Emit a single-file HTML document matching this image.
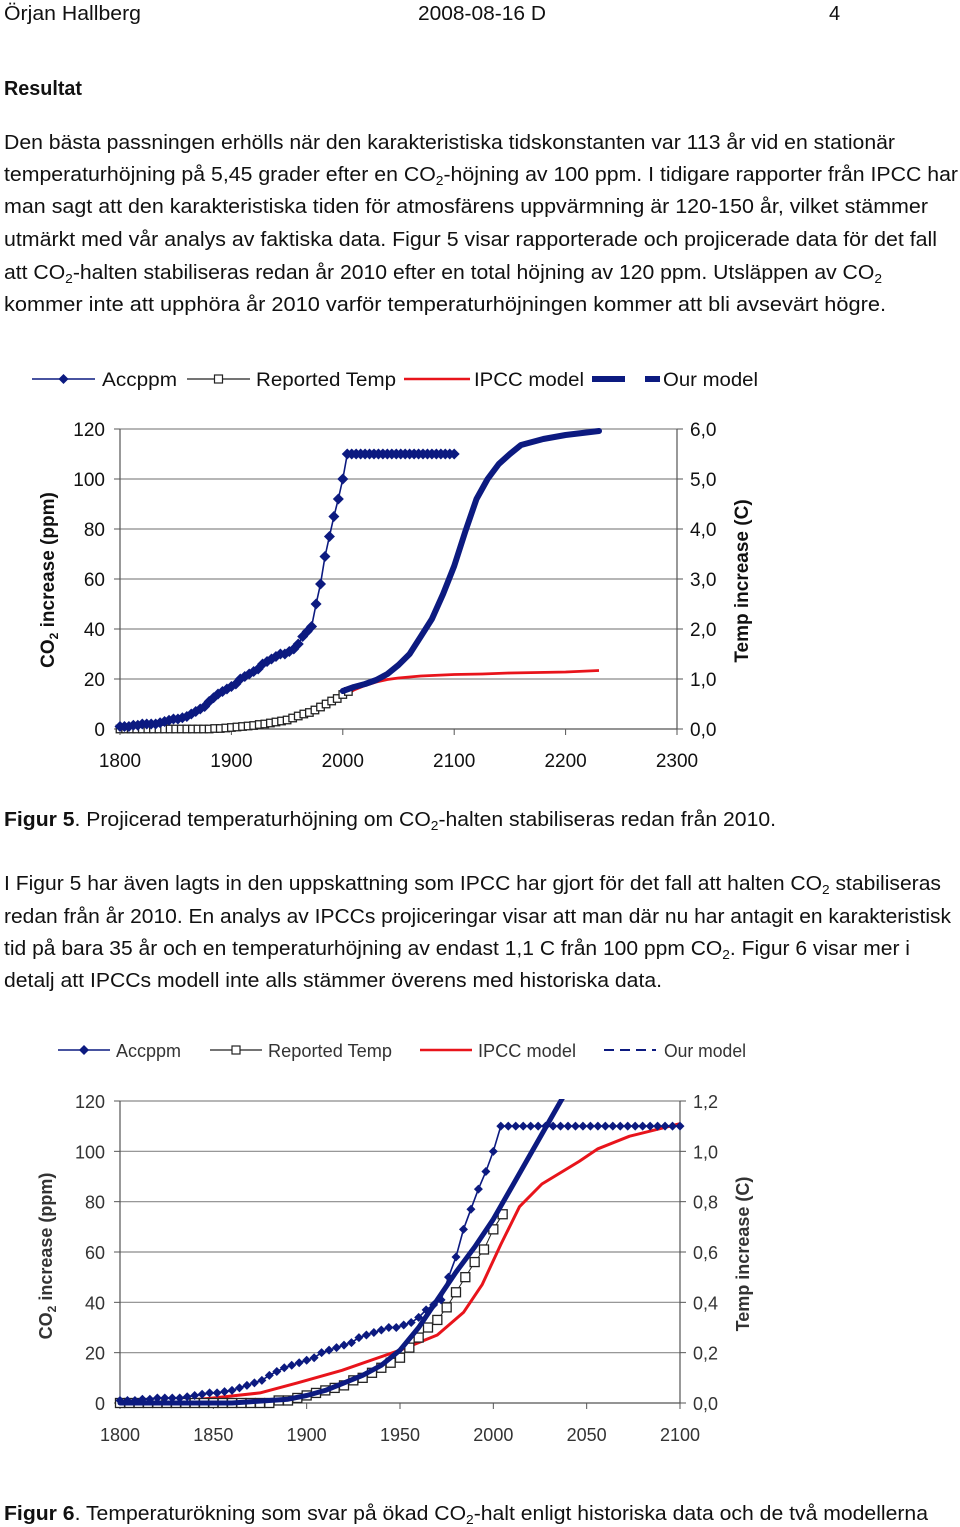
<!DOCTYPE html>
<html><head><meta charset="utf-8">
<style>
html,body{margin:0;padding:0;background:#fff;}
svg{display:block;font-family:"Liberation Sans",Arial,sans-serif;}
.b{font-size:20px;fill:#111;}
.t1{font-size:19px;fill:#111;}
.t2{font-size:18px;fill:#333;}
</style></head>
<body>
<svg id="page" width="960" height="1527" viewBox="0 0 960 1527" xmlns="http://www.w3.org/2000/svg">
<g>
<text class="b" x="4" y="20" textLength="137" lengthAdjust="spacingAndGlyphs">Örjan Hallberg</text>
<text class="b" x="418" y="20" textLength="128" lengthAdjust="spacingAndGlyphs">2008-08-16 D</text>
<text class="b" x="829" y="20">4</text>
</g>
<text class="b" x="4" y="95" font-weight="bold" textLength="78" lengthAdjust="spacingAndGlyphs">Resultat</text>
<g>
<text class="b" x="4" y="149" textLength="891" lengthAdjust="spacingAndGlyphs">Den bästa passningen erhölls när den karakteristiska tidskonstanten var 113 år vid en stationär</text>
<text class="b" x="4" y="181" textLength="954" lengthAdjust="spacingAndGlyphs">temperaturhöjning på 5,45 grader efter en CO<tspan font-size="13" dy="4">2</tspan><tspan dy="-4">-höjning av 100 ppm. I tidigare rapporter från IPCC har</tspan></text>
<text class="b" x="4" y="213" textLength="924" lengthAdjust="spacingAndGlyphs">man sagt att den karakteristiska tiden för atmosfärens uppvärmning är 120-150 år, vilket stämmer</text>
<text class="b" x="4" y="246" textLength="933" lengthAdjust="spacingAndGlyphs">utmärkt med vår analys av faktiska data. Figur 5 visar rapporterade och projicerade data för det fall</text>
<text class="b" x="4" y="279" textLength="878" lengthAdjust="spacingAndGlyphs">att CO<tspan font-size="13" dy="4">2</tspan><tspan dy="-4">-halten stabiliseras redan år 2010 efter en total höjning av 120 ppm. Utsläppen av CO</tspan><tspan font-size="13" dy="4">2</tspan></text>
<text class="b" x="4" y="311" textLength="882" lengthAdjust="spacingAndGlyphs">kommer inte att upphöra år 2010 varför temperaturhöjningen kommer att bli avsevärt högre.</text>
</g>

<g id="chart1"></g>

<text class="b" x="4" y="826" textLength="772" lengthAdjust="spacingAndGlyphs"><tspan font-weight="bold">Figur 5</tspan>. Projicerad temperaturhöjning om CO<tspan font-size="13" dy="4">2</tspan><tspan dy="-4">-halten stabiliseras redan från 2010.</tspan></text>
<g>
<text class="b" x="4" y="890" textLength="937" lengthAdjust="spacingAndGlyphs">I Figur 5 har även lagts in den uppskattning som IPCC har gjort för det fall att halten CO<tspan font-size="13" dy="4">2</tspan><tspan dy="-4"> stabiliseras</tspan></text>
<text class="b" x="4" y="923" textLength="947" lengthAdjust="spacingAndGlyphs">redan från år 2010. En analys av IPCCs projiceringar visar att man där nu har antagit en karakteristisk</text>
<text class="b" x="4" y="955" textLength="906" lengthAdjust="spacingAndGlyphs">tid på bara 35 år och en temperaturhöjning av endast 1,1 C från 100 ppm CO<tspan font-size="13" dy="4">2</tspan><tspan dy="-4">. Figur 6 visar mer i</tspan></text>
<text class="b" x="4" y="987" textLength="658" lengthAdjust="spacingAndGlyphs">detalj att IPCCs modell inte alls stämmer överens med historiska data.</text>
</g>

<g id="chart2"></g>

<text class="b" x="4" y="1520" textLength="924" lengthAdjust="spacingAndGlyphs"><tspan font-weight="bold">Figur 6</tspan>. Temperaturökning som svar på ökad CO<tspan font-size="13" dy="4">2</tspan><tspan dy="-4">-halt enligt historiska data och de två modellerna</tspan></text>
</svg>

<script>
// ===== shared data =====
const accYears = [1800,1804,1808,1812,1816,1820,1824,1828,1832,1836,1840,1844,1848,1852,1856,1860,1864,1868,1872,1876,1880,1884,1888,1892,1896,1900,1904,1908,1912,1916,1920,1924,1928,1932,1936,1940,1944,1948,1952,1956,1960,1964,1968,1972,1976,1980,1984,1988,1992,1996,2000,2004,2008,2012,2016,2020,2024,2028,2032,2036,2040,2044,2048,2052,2056,2060,2064,2068,2072,2076,2080,2084,2088,2092,2096,2100];
const accPpm = [1,1,1,1.5,1.5,2,2,2,2,2.5,3,3.5,4,4,4.5,5,6,7,8,9,11,12.5,14,15,16,17,18,20,21,22,23,24,26,27,28,29,30,30,31,32,34,37,39,41,50,58,69,77,85,92,100,110,110,110,110,110,110,110,110,110,110,110,110,110,110,110,110,110,110,110,110,110,110,110,110,110];
const tempYears = [1800,1805,1810,1815,1820,1825,1830,1835,1840,1845,1850,1855,1860,1865,1870,1875,1880,1885,1890,1895,1900,1905,1910,1915,1920,1925,1930,1935,1940,1945,1950,1955,1960,1965,1970,1975,1980,1985,1990,1995,2000,2005];
const tempReported = [0,0,0,0,0,0,0,0,0,0,0,0,0,0,0,0,0,0.01,0.01,0.02,0.03,0.04,0.05,0.06,0.07,0.09,0.1,0.12,0.14,0.16,0.18,0.22,0.26,0.3,0.33,0.38,0.44,0.5,0.56,0.61,0.69,0.75];

// ===== figure 5 data =====
const f5ModelYears = [2000,2010,2020,2030,2040,2050,2060,2070,2080,2090,2100,2110,2120,2130,2140,2150,2160,2180,2200,2230];
const f5Model = [0.76,0.84,0.9,0.98,1.1,1.28,1.5,1.85,2.2,2.7,3.26,3.95,4.6,5.0,5.3,5.5,5.68,5.8,5.88,5.96];
const f5IpccYears = [1985,1990,2000,2010,2020,2030,2040,2050,2060,2070,2080,2100,2125,2150,2175,2200,2230];
const f5Ipcc = [0.52,0.56,0.66,0.78,0.87,0.94,0.99,1.02,1.04,1.06,1.07,1.09,1.1,1.12,1.13,1.14,1.17];
const f5XTicks = [1800,1900,2000,2100,2200,2300];
const f5LeftTicks = [0,20,40,60,80,100,120];
const f5RightTicks = ["0,0","1,0","2,0","3,0","4,0","5,0","6,0"];

// ===== figure 6 data =====
const f6ModelYears = [1800,1820,1840,1860,1870,1880,1890,1900,1910,1920,1930,1940,1950,1960,1970,1980,1990,2000,2010,2020,2030,2040];
const f6Model = [0,0,0,0,0.005,0.01,0.015,0.03,0.05,0.08,0.11,0.15,0.21,0.3,0.41,0.52,0.62,0.73,0.86,0.99,1.12,1.25];
const f6IpccYears = [1835,1850,1875,1895,1919,1950,1970,1984,1994,2004,2014,2026,2046,2056,2073,2100];
const f6Ipcc = [0.01,0.02,0.04,0.08,0.13,0.21,0.27,0.36,0.47,0.63,0.78,0.87,0.96,1.01,1.06,1.11];
const f6XTicks = [1800,1850,1900,1950,2000,2050,2100];
const f6LeftTicks = [0,20,40,60,80,100,120];
const f6RightTicks = ["0,0","0,2","0,4","0,6","0,8","1,0","1,2"];

const NS = "http://www.w3.org/2000/svg";
function mk(parent, tag, attrs, text){
  const e = document.createElementNS(NS, tag);
  for (const k in attrs) e.setAttribute(k, attrs[k]);
  if (text !== undefined) e.textContent = text;
  parent.appendChild(e);
  return e;
}
function poly(xs, ys, sx, sy){ return xs.map((x,i)=>sx(x).toFixed(1)+","+sy(ys[i]).toFixed(1)).join(" "); }
function diamondPts(cx, cy, r){ return `${cx},${cy-r} ${cx+r},${cy} ${cx},${cy+r} ${cx-r},${cy}`; }

function drawChart(cfg){
  const g = document.getElementById(cfg.id);
  const sx = y => cfg.x0 + (y - cfg.xmin) / (cfg.xmax - cfg.xmin) * (cfg.x1 - cfg.x0);
  const syL = v => cfg.y0 - v / cfg.lmax * (cfg.y0 - cfg.y1);
  const syR = v => cfg.y0 - v / cfg.rmax * (cfg.y0 - cfg.y1);
  const tc = cfg.textClass;

  // gridlines + left/right ticks
  cfg.leftTicks.forEach((t,i)=>{
    const y = syL(t);
    if (i>0) {
      const gl = mk(g,"line",{x1:cfg.x0,x2:cfg.x1,y1:y,y2:y,stroke:"#8a8a8a","stroke-width":1.2});
      
      
    }
    mk(g,"line",{x1:cfg.x0-6,x2:cfg.x0,y1:y,y2:y,stroke:"#555","stroke-width":1});
    mk(g,"line",{x1:cfg.x1,x2:cfg.x1+6,y1:y,y2:y,stroke:"#555","stroke-width":1});
    const lt = mk(g,"text",{x:cfg.x0-15,y:y+7,"text-anchor":"end",class:tc}, String(t));
    
    
    const rt = mk(g,"text",{x:cfg.x1+13,y:y+7,class:tc}, cfg.rightTicks[i]);
    
    
  });
  // axes
  mk(g,"line",{x1:cfg.x0,x2:cfg.x0,y1:cfg.y1,y2:cfg.y0,stroke:"#555","stroke-width":1.2});
  mk(g,"line",{x1:cfg.x1,x2:cfg.x1,y1:cfg.y1,y2:cfg.y0,stroke:"#555","stroke-width":1.2});
  mk(g,"line",{x1:cfg.x0,x2:cfg.x1,y1:cfg.y0,y2:cfg.y0,stroke:"#555","stroke-width":1.2});
  cfg.xTicks.forEach(t=>{
    const x = sx(t);
    mk(g,"line",{x1:x,x2:x,y1:cfg.y0,y2:cfg.y0+6,stroke:"#555","stroke-width":1});
    const xt = mk(g,"text",{x:x,y:cfg.y0+38,"text-anchor":"middle",class:tc}, String(t));
    
    
  });
  // axis titles
  const lt = mk(g,"text",{transform:`translate(${cfg.ltx},${cfg.lty}) rotate(-90)`,"text-anchor":"middle","font-weight":"bold",class:tc});
  
  
  mk(lt,"tspan",{},"CO");
  mk(lt,"tspan",{"font-size":"12",dy:"4"},"2");
  mk(lt,"tspan",{dy:"-4"}," increase (ppm)");
  const rtt = mk(g,"text",{transform:`translate(${cfg.rtx},${cfg.rty}) rotate(-90)`,"text-anchor":"middle","font-weight":"bold",class:tc},"Temp increase (C)");
  
  

  // clip
  const cid = cfg.id+"-clip";
  const defs = mk(g,"defs",{});
  const cp = mk(defs,"clipPath",{id:cid});
  mk(cp,"rect",{x:cfg.x0-10,y:cfg.y1-2,width:cfg.x1-cfg.x0+20,height:cfg.y0-cfg.y1+12});
  const plot = mk(g,"g",{"clip-path":`url(#${cid})`});
  
  

  // IPCC
  const ip = mk(plot,"polyline",{points:poly(cfg.ipccYears,cfg.ipcc,sx,syR),fill:"none",stroke:"#e8141b","stroke-width":cfg.redW,"stroke-linejoin":"round"});
  
  
  // reported temp squares
  const rl = mk(plot,"polyline",{points:poly(tempYears,tempReported,sx,syR),fill:"none",stroke:"#222","stroke-width":1});
  
  
  tempYears.forEach((yr,i)=>{
    if (cfg.tempMaxYear && yr>cfg.tempMaxYear) return;
    const s = cfg.sq;
    const r = mk(plot,"rect",{x:sx(yr)-s/2,y:syR(tempReported[i])-s/2,width:s,height:s,fill:"#fff",stroke:"#222","stroke-width":1.3});
    
    
  });
  // our model
  const om = mk(plot,"polyline",{points:poly(cfg.modelYears,cfg.model,sx,syR),fill:"none",stroke:"#0c1a80","stroke-width":cfg.modelW,"stroke-linejoin":"round","stroke-linecap":"round"});
  
  
  // accppm
  const al = mk(plot,"polyline",{points:poly(accYears,accPpm,sx,syL),fill:"none",stroke:"#0c1a80","stroke-width":1.6});
  
  
  accYears.forEach((yr,i)=>{
    const d = mk(plot,"polygon",{points:diamondPts(sx(yr),syL(accPpm[i]),cfg.dia),fill:"#0c1a80"});
    
    
  });

  // legend
  const L = cfg.legend;
  const lg = mk(g,"g",{});
  
  
  const ly = L.y;
  mk(lg,"line",{x1:L.a[0],x2:L.a[1],y1:ly,y2:ly,stroke:"#0c1a80","stroke-width":1.6});
  mk(lg,"polygon",{points:diamondPts((L.a[0]+L.a[1])/2,ly,5),fill:"#0c1a80"});
  const e1 = mk(lg,"text",{x:L.a[2],y:ly+7,class:tc,textLength:L.a[3],lengthAdjust:"spacingAndGlyphs"},"Accppm");
  
  
  mk(lg,"line",{x1:L.r[0],x2:L.r[1],y1:ly,y2:ly,stroke:"#222","stroke-width":1.3});
  mk(lg,"rect",{x:(L.r[0]+L.r[1])/2-4,y:ly-4,width:8,height:8,fill:"#fff",stroke:"#222","stroke-width":1.2});
  const e2 = mk(lg,"text",{x:L.r[2],y:ly+7,class:tc,textLength:L.r[3],lengthAdjust:"spacingAndGlyphs"},"Reported Temp");
  
  
  mk(lg,"line",{x1:L.i[0],x2:L.i[1],y1:ly,y2:ly,stroke:"#e8141b","stroke-width":2.5});
  const e3 = mk(lg,"text",{x:L.i[2],y:ly+7,class:tc,textLength:L.i[3],lengthAdjust:"spacingAndGlyphs"},"IPCC model");
  
  
  mk(lg,"line",{x1:L.o[0],x2:L.o[1],y1:ly,y2:ly,stroke:"#0c1a80","stroke-width":L.oW,"stroke-dasharray":L.dash});
  const e4 = mk(lg,"text",{x:L.o[2],y:ly+7,class:tc,textLength:L.o[3],lengthAdjust:"spacingAndGlyphs"},"Our model");
  
  
}

drawChart({
  id:"chart1", textClass:"t1",
  x0:120, x1:677, xmin:1800, xmax:2300, y0:729, y1:429, lmax:120, rmax:6,
  xTicks:f5XTicks, leftTicks:f5LeftTicks, rightTicks:f5RightTicks,
  modelYears:f5ModelYears, model:f5Model, ipccYears:f5IpccYears, ipcc:f5Ipcc,
  modelW:6, redW:2.8, sq:7.5, dia:5.5,
  ltx:54, lty:580, rtx:748, rty:581,
  legend:{y:379, a:[32,95,102,75], r:[187,250,256,140], i:[404,470,474,110], o:[592,660,663,95], oW:6, dash:"33 20 15"}
});
drawChart({
  id:"chart2", textClass:"t2",
  x0:120, x1:680, xmin:1800, xmax:2100, y0:1403, y1:1101, lmax:120, rmax:1.2,
  xTicks:f6XTicks, leftTicks:f6LeftTicks, rightTicks:f6RightTicks,
  modelYears:f6ModelYears, model:f6Model, ipccYears:f6IpccYears, ipcc:f6Ipcc,
  modelW:5, redW:3, sq:9, dia:4.5,
  ltx:52, lty:1256, rtx:749, rty:1254,
  legend:{y:1050, a:[58,110,116,65], r:[210,262,268,124], i:[420,472,478,98], o:[604,656,664,82], oW:2, dash:"10 6"}
});
</script>
</body></html>
